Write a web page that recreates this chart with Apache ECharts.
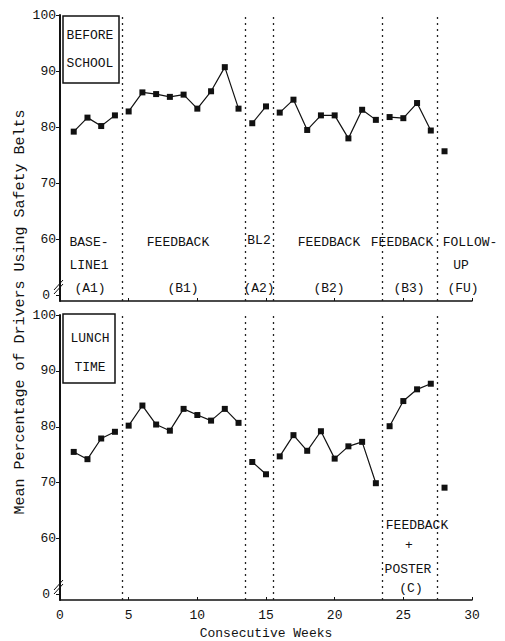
<!DOCTYPE html>
<html>
<head>
<meta charset="utf-8">
<script src="https://cdn.jsdelivr.net/npm/echarts@6/dist/echarts.min.js"></script>
<style>
html,body{margin:0;padding:0;background:#fff;}
#c{width:505px;height:641px;}
</style>
</head>
<body>
<div id="c"></div>
<script>
// ---- data ----
const weeks = [1,2,3,4,5,6,7,8,9,10,11,12,13,14,15,16,17,18,19,20,21,22,23,24,25,26,27,28];
const beforeSchool = [79.2,81.7,80.2,82.1,82.8,86.2,85.9,85.4,85.8,83.3,86.4,90.7,83.3,80.7,83.7,82.6,84.9,79.5,82.1,82.1,78.0,83.1,81.3,81.8,81.6,84.3,79.4,75.7];
const lunchTime = [75.5,74.2,77.9,79.1,80.2,83.8,80.4,79.3,83.2,82.1,81.1,83.2,80.7,73.7,71.5,74.7,78.5,75.7,79.2,74.3,76.5,77.3,69.9,80.1,84.6,86.7,87.7,69.1];
const phaseStarts = [1,5,14,16,24,28];
const phaseBoundaries = [4.5,13.5,15.5,23.5,27.5];
const yTickValues = [50,60,70,80,90,100];
const yTickLabels = ['0','60','70','80','90','100'];
const xTickValues = [0,5,10,15,20,25,30];

const FONT = '"Liberation Mono", "DejaVu Sans Mono", monospace';
const INK = '#111';

function phaseSeries(values, gridIdx) {
  const out = [];
  for (let p = 0; p < phaseStarts.length; p++) {
    const s = phaseStarts[p];
    const e = p + 1 < phaseStarts.length ? phaseStarts[p + 1] : weeks[weeks.length - 1] + 1;
    const data = weeks.filter(w => w >= s && w < e).map(w => [w, values[w - 1]]);
    const ser = {
      type: 'line', xAxisIndex: gridIdx, yAxisIndex: gridIdx, data: data,
      symbol: 'rect', symbolSize: 6, showSymbol: true, animation: false,
      lineStyle: { color: INK, width: 1.2 },
      itemStyle: { color: INK }
    };
    if (p === 0) {
      ser.markLine = {
        symbol: 'none', silent: true, animation: false,
        label: { show: false },
        lineStyle: { type: [2, 4], color: '#222', width: 1.3 },
        data: phaseBoundaries.map(x => ({ xAxis: x }))
      };
    }
    out.push(ser);
  }
  return out;
}

function yAxis(gridIdx) {
  return {
    type: 'value', gridIndex: gridIdx, min: 49, max: 100,
    axisLine: { show: true, lineStyle: { color: INK, width: 2 } },
    axisTick: { show: true, customValues: yTickValues, length: 4, lineStyle: { color: INK } },
    axisLabel: {
      customValues: yTickValues, color: INK, fontFamily: FONT, fontSize: 13, margin: 4,
      formatter: v => {
        const t = yTickLabels[yTickValues.indexOf(v)];
        return v === yTickValues[0] ? '{z|' + t + '}' : t;
      },
      rich: { z: { color: INK, fontFamily: FONT, fontSize: 13, padding: [0, 6, 0, 0] } }
    },
    splitLine: { show: false }
  };
}
function xAxis(gridIdx, showLabels) {
  return {
    type: 'value', gridIndex: gridIdx, min: 0, max: 30, interval: 5,
    axisLine: { show: true, onZero: false, lineStyle: { color: INK, width: 1.5 } },
    axisTick: { show: true, inside: true, length: 3, lineStyle: { color: INK } },
    axisLabel: { show: showLabels, color: INK, fontFamily: FONT, fontSize: 13, margin: 9,
      customValues: xTickValues },
    splitLine: { show: false },
    name: showLabels ? 'Consecutive Weeks' : '',
    nameLocation: 'middle', nameGap: 27,
    nameTextStyle: { color: INK, fontFamily: FONT, fontSize: 13 }
  };
}

function txt(x, y, s, size) {
  return { type: 'text', x: x, y: y, silent: true,
    style: { text: s, fill: INK, font: (size || 13) + 'px ' + FONT, textAlign: 'center', textVerticalAlign: 'middle' } };
}
function brk(x, y) {
  return { type: 'group', silent: true, children: [
    { type: 'line', shape: { x1: x - 5, y1: y + 4, x2: x + 4, y2: y - 6 }, style: { stroke: INK, lineWidth: 1 } },
    { type: 'line', shape: { x1: x - 5, y1: y + 8, x2: x + 4, y2: y - 2 }, style: { stroke: INK, lineWidth: 1 } }
  ]};
}

const graphics = [
  { type: 'rect', shape: { x: 63, y: 16, width: 56, height: 67 }, style: { fill: '#fff', stroke: INK, lineWidth: 1.5 }, z: 10 },
  Object.assign(txt(90, 35, 'BEFORE'), { z: 11 }),
  Object.assign(txt(90, 63, 'SCHOOL'), { z: 11 }),
  { type: 'rect', shape: { x: 63, y: 314, width: 52, height: 69 }, style: { fill: '#fff', stroke: INK, lineWidth: 1.5 }, z: 10 },
  Object.assign(txt(90, 338, 'LUNCH'), { z: 11 }),
  Object.assign(txt(90, 367, 'TIME'), { z: 11 }),
  // phase labels (top panel)
  txt(89, 242, 'BASE-'), txt(89, 265, 'LINE1'), txt(90, 288, '(A1)'),
  txt(178, 242, 'FEEDBACK'), txt(183, 288, '(B1)'),
  txt(259, 240, 'BL2'), txt(259, 288, '(A2)'),
  txt(329, 242, 'FEEDBACK'), txt(329, 288, '(B2)'),
  txt(402, 242, 'FEEDBACK'), txt(409, 288, '(B3)'),
  txt(470, 242, 'FOLLOW-'), txt(461, 265, 'UP'), txt(463, 288, '(FU)'),
  // bottom panel label
  txt(417, 525, 'FEEDBACK'), txt(409, 545, '+'), txt(408, 569, 'POSTER'), txt(411, 588, '(C)'),
  // y axis title
  { type: 'text', x: 20, y: 312, rotation: Math.PI / 2, silent: true,
    style: { text: 'Mean Percentage of Drivers Using Safety Belts', fill: INK, font: '15px ' + FONT, textAlign: 'center', textVerticalAlign: 'middle' } },
  brk(59, 286), brk(59, 586)
];

const chart = echarts.init(document.getElementById('c'), null, { renderer: 'svg' });
chart.setOption({
  backgroundColor: '#fff',
  animation: false,
  grid: [
    { left: 60, right: 33, top: 15, height: 286 },
    { left: 60, right: 33, top: 315, height: 286 }
  ],
  xAxis: [xAxis(0, false), xAxis(1, true)],
  yAxis: [yAxis(0), yAxis(1)],
  series: phaseSeries(beforeSchool, 0).concat(phaseSeries(lunchTime, 1)),
  graphic: graphics
});
</script>
</body>
</html>
